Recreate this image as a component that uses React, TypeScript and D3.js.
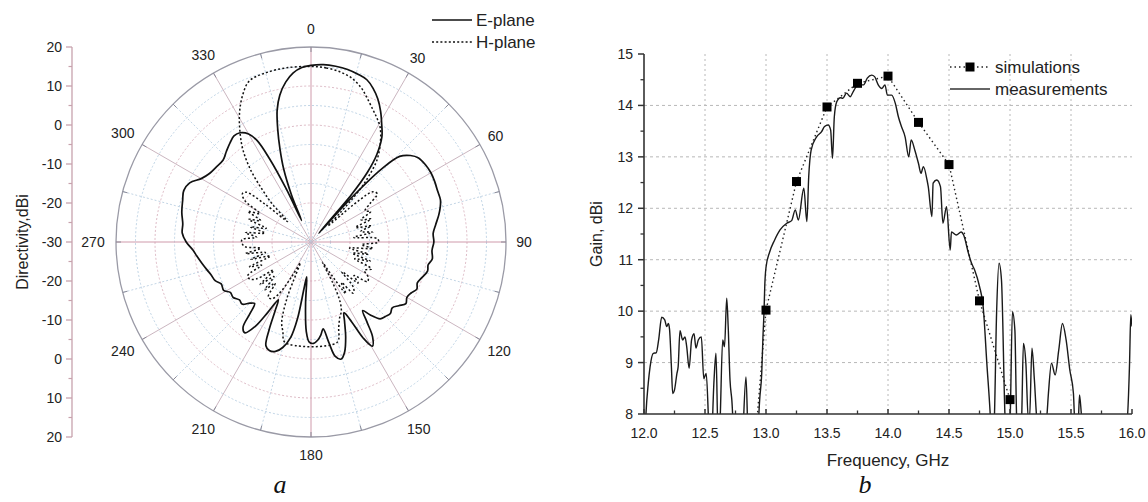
import React from 'react';
import * as d3 from 'd3';

// (a) radiation pattern, angle in degrees, directivity in dBi
const eAngles = [0, 4, 8, 12, 16, 19, 22, 25, 28, 31, 34, 37, 39, 40.5, 41.5, 42.5, 44, 46, 49, 52, 56, 60, 64, 68, 72, 75, 78, 82, 86, 90, 94, 98, 101, 104, 108, 111, 114, 117, 120, 123, 126, 129, 132, 135, 138, 141, 143, 145, 147, 149.5, 151.5, 153, 155, 157, 160, 163, 165.5, 168, 170, 172, 174, 176, 178.5, 181, 183, 185, 187, 188.5, 190, 192, 195, 198, 201, 203.5, 205.5, 207.5, 209.5, 211.5, 213.5, 216, 218.5, 220.5, 222.5, 225, 228, 231, 234.5, 238, 241, 245, 248, 252, 255, 259, 263, 266, 270, 274, 278, 283, 288, 292, 296, 300, 304, 308, 313, 317, 321, 324, 327, 330, 332, 333.5, 335, 336.3, 337.5, 339.5, 341.5, 343.5, 345.6, 348, 351, 354, 357];
const eDirectivity = [15.3, 15.6, 15.5, 15.2, 14.6, 14.0, 12.5, 10.5, 8.0, 5.2, 2.5, -2, -7, -14, -27, -14, -4, 1.6, 3.8, 5.0, 5.4, 5.5, 5.3, 5.0, 4.9, 4.3, 3.5, 2.3, 1.4, 1.5, 1.1, 1.4, 0.6, 0.8, -0.2, -0.8, -0.3, -1.2, -1.6, -1.0, -2.2, -3.2, -2.6, -3.0, -3.5, -6, -8, -5, -1, 1.0, -2, -7, -10, -8, -4, -0.5, 1.0, 0, -4, -7.5, -6, -4.8, -4.0, -4.3, -7, -14, -21, -18, -10, -5, -2, -0.5, -0.2, -1, -5, -10, -13, -9, -4, -1.2, -2, -6, -8.6, -7.8, -6.2, -6.4, -5.5, -5.6, -4.4, -4.6, -3.5, -3.0, -2.4, -1.5, -0.5, 0.3, 2.0, 3.1, 3.2, 4.0, 4.6, 5.2, 4.6, 2.5, 1.4, 1.0, 0.8, 1.8, 2.9, 3.6, 3.4, 2.0, -0.5, -6, -15, -24, -17, -10, -5, 0, 4.9, 8.5, 11.5, 13.6, 14.8];

const hAngles = [0, 5, 10, 14, 18, 21, 25, 28, 31, 35, 38.8, 41, 43, 45, 46.5, 49, 51, 54, 57, 60, 63, 66, 69, 72, 75, 78, 81, 84, 87, 90, 93, 96, 99, 102, 105, 108, 111, 114, 118, 121.5, 125, 128, 131, 134, 137, 140.5, 143, 146, 148.5, 150.5, 152, 154, 156.5, 159, 162, 165.5, 194.5, 197.5, 200, 203, 205, 207, 209, 212, 215, 218, 221, 224, 227, 230, 233, 236, 239, 242, 245, 248, 251, 254, 257, 260, 263, 266, 269, 272, 275, 278, 281, 284, 287, 290, 293, 296, 299, 302, 305, 307.5, 309.5, 311, 312.5, 314.5, 317, 320, 323.5, 327, 331, 335, 339, 345, 352];
const hDirectivity = [15.0, 14.8, 14.2, 13.3, 11.6, 9.8, 7.5, 6.0, 4.4, 1.0, -3, -7, -11.7, -19.5, -24, -14, -9.5, -9, -12, -14, -12.8, -16, -13.5, -18, -14, -17, -14, -19, -13, -12.7, -17, -14, -20, -15, -19, -14, -18, -13, -14.5, -12.8, -12.3, -16, -14, -19, -14, -13, -17, -14, -21, -24, -18, -13, -10.5, -9.4, -7, -3.4, -3.4, -6, -8, -14, -21, -24, -20, -14, -12.2, -12.2, -16, -13, -17, -13, -18, -13, -11.6, -11.6, -16, -13, -19, -14, -18, -13, -17, -13, -12.3, -12.3, -16, -13, -18, -14, -18, -13, -16, -12, -15, -10, -8.5, -9, -15, -22, -21, -16, -11.8, -6, -0.7, 3.4, 7.8, 11.5, 14.2, 14.9, 15.1];

const angleTicks = d3.range(0, 360, 30);
const radialTicks = [20, 10, 0, -10, -20, -30];

// (b) gain versus frequency
const simFreq = [12.75, 13.0, 13.25, 13.5, 13.75, 14.0, 14.25, 14.5, 14.75, 15.0];
const simGain = [2.8, 10.02, 12.52, 13.97, 14.43, 14.57, 13.67, 12.85, 10.2, 8.28];

const measFreq = [12.0, 12.016, 12.035, 12.05, 12.076, 12.1, 12.12, 12.145, 12.17, 12.186, 12.2, 12.21, 12.225, 12.235, 12.25, 12.27, 12.28, 12.295, 12.317, 12.336, 12.35, 12.37, 12.39, 12.41, 12.426, 12.445, 12.47, 12.49, 12.51, 12.535, 12.55, 12.574, 12.59, 12.607, 12.62, 12.645, 12.66, 12.678, 12.69, 12.705, 12.72, 12.74, 12.8, 12.836, 12.855, 12.92, 12.95, 12.965, 12.975, 12.984, 12.99, 13.0, 13.03, 13.07, 13.115, 13.17, 13.21, 13.24, 13.265, 13.31, 13.335, 13.35, 13.37, 13.415, 13.456, 13.48, 13.51, 13.53, 13.545, 13.56, 13.58, 13.61, 13.63, 13.66, 13.69, 13.715, 13.756, 13.8, 13.83, 13.866, 13.89, 13.92, 13.95, 13.975, 13.995, 14.03, 14.06, 14.085, 14.11, 14.14, 14.17, 14.19, 14.22, 14.25, 14.27, 14.29, 14.32, 14.33, 14.36, 14.37, 14.4, 14.43, 14.45, 14.48, 14.51, 14.52, 14.56, 14.6, 14.62, 14.66, 14.685, 14.71, 14.75, 14.78, 14.81, 14.84, 14.85, 14.87, 14.89, 14.91, 14.93, 14.96, 14.98, 15.0, 15.02, 15.04, 15.055, 15.075, 15.095, 15.11, 15.13, 15.15, 15.16, 15.18, 15.2, 15.22, 15.26, 15.3, 15.315, 15.34, 15.37, 15.4, 15.43, 15.46, 15.49, 15.52, 15.53, 15.545, 15.56, 15.57, 15.59, 15.75, 15.96, 15.98, 15.99, 16.0];
const measGain = [7.0, 8.0, 8.6, 8.92, 9.18, 9.19, 9.44, 9.88, 9.83, 9.7, 9.76, 9.63, 8.9, 8.4, 8.47, 8.79, 8.92, 9.62, 9.44, 9.5, 9.31, 8.89, 9.44, 9.56, 9.28, 9.44, 9.5, 8.69, 8.79, 7.6, 7.4, 8.66, 9.18, 7.6, 7.7, 9.44, 9.31, 10.25, 9.7, 8.66, 8.27, 7.5, 7.3, 8.72, 7.5, 7.3, 8.34, 8.79, 9.5, 10.0, 10.5, 10.85, 11.15, 11.38, 11.58, 11.71, 11.76, 11.97, 11.77, 12.39, 11.74, 12.61, 13.13, 13.39, 13.49, 13.59, 13.62, 13.52, 12.97, 13.78, 14.07, 14.15, 14.14, 14.24, 14.17, 14.27, 14.4, 14.4, 14.53, 14.59, 14.56, 14.4, 14.33, 14.4, 14.2, 14.2, 14.04, 13.78, 13.59, 13.39, 13.0, 13.33, 13.13, 12.87, 12.68, 12.81, 12.55, 12.42, 11.84, 12.49, 12.55, 12.42, 11.71, 12.03, 11.19, 11.54, 11.48, 11.54, 11.48, 11.12, 10.93, 10.8, 10.48, 10.09, 8.99, 7.9, 7.4, 7.8, 9.96, 10.93, 10.61, 7.9, 7.4, 7.8, 9.99, 9.63, 7.9, 7.5, 7.9, 9.37, 8.99, 7.9, 7.9, 9.28, 8.66, 7.9, 7.5, 7.9, 8.4, 8.99, 8.76, 9.25, 9.76, 9.44, 8.86, 8.4, 7.9, 7.8, 7.9, 8.37, 7.9, 7.3, 7.9, 8.99, 9.93, 9.7];

const freqTicks = [12.0, 12.5, 13.0, 13.5, 14.0, 14.5, 15.0, 15.5, 16.0];
const gainTicks = [8, 9, 10, 11, 12, 13, 14, 15];

const SANS = 'Arial, "Liberation Sans", sans-serif';
const SERIF = '"Times New Roman", "Liberation Serif", serif';

function PolarChart() {
  const cx = 311;
  const cy = 242;
  const R = 195;
  const r = d3.scaleLinear().domain([-30, 20]).range([0, R]).clamp(true);
  const yTop = d3.scaleLinear().domain([-30, 20]).range([cy, cy - R]);
  const yBot = d3.scaleLinear().domain([-30, 20]).range([cy, cy + R]);
  const axisX = 72;

  const line = d3
    .lineRadial<[number, number]>()
    .angle(d => (d[0] * Math.PI) / 180)
    .radius(d => r(d[1]))
    .curve(d3.curveCatmullRomClosed);

  const ePts = eAngles.map((a, i) => [a, eDirectivity[i]] as [number, number]);
  const hPts = hAngles.map((a, i) => [a, hDirectivity[i]] as [number, number]);

  const pos = (deg: number, rad: number) => {
    const t = (deg * Math.PI) / 180;
    return [cx + rad * Math.sin(t), cy - rad * Math.cos(t)];
  };

  const rings = d3.range(-25, 20, 5);
  const spokes = d3.range(0, 360, 15);
  const minorRadial = d3.range(-25, 20, 10);

  return (
    <g>
      {/* grid */}
      {rings.map(v => (
        <circle
          key={'ring' + v}
          cx={cx}
          cy={cy}
          r={r(v)}
          fill="none"
          stroke={v % 10 === 0 ? '#d9b3c0' : '#b9cfe2'}
          strokeWidth={0.9}
          strokeDasharray="2,2"
        />
      ))}
      {spokes.map(a => {
        const [x2, y2] = pos(a, R);
        const major = a % 30 === 0;
        const axial = a % 90 === 0;
        return (
          <line
            key={'sp' + a}
            x1={cx}
            y1={cy}
            x2={x2}
            y2={y2}
            stroke={axial ? '#cf9aab' : major ? '#cbb6c0' : '#bcd0e2'}
            strokeWidth={major ? 1 : 0.9}
            strokeDasharray={major ? undefined : '2,2'}
          />
        );
      })}
      <circle cx={cx} cy={cy} r={R} fill="none" stroke="#9a9aa6" strokeWidth={1.3} />
      {spokes.map(a => {
        const [x1, y1] = pos(a, R);
        const [x2, y2] = pos(a, R - 5);
        return <line key={'tk' + a} x1={x1} y1={y1} x2={x2} y2={y2} stroke="#8a8a98" strokeWidth={1} />;
      })}

      {/* curves */}
      <path
        d={line(hPts) || ''}
        transform={`translate(${cx},${cy})`}
        fill="none"
        stroke="#111"
        strokeWidth={1.5}
        strokeDasharray="2,2.2"
      />
      <path
        d={line(ePts) || ''}
        transform={`translate(${cx},${cy})`}
        fill="none"
        stroke="#111"
        strokeWidth={1.7}
      />

      {/* angle labels */}
      {angleTicks.map(a => {
        const label = String(a);
        const t = (a * Math.PI) / 180;
        const rr = 213 + (label.length === 3 ? 5 * Math.abs(Math.sin(t)) : 0);
        const [x, y] = pos(a, rr);
        return (
          <text
            key={'al' + a}
            x={x}
            y={y}
            textAnchor="middle"
            dominantBaseline="central"
            fontSize={14}
            fontFamily={SANS}
            fill="#222"
          >
            {label}
          </text>
        );
      })}

      {/* radial axis on the left */}
      <line x1={axisX} y1={cy - R} x2={axisX} y2={cy + R} stroke="#c7a2ad" strokeWidth={1.3} />
      {radialTicks.map(v => (
        <g key={'rt' + v}>
          <line x1={axisX - 6} y1={yTop(v)} x2={axisX} y2={yTop(v)} stroke="#c7a2ad" strokeWidth={1.3} />
          <text x={axisX - 10} y={yTop(v)} textAnchor="end" dominantBaseline="central" fontSize={14} fontFamily={SANS} fill="#222">
            {v}
          </text>
          {v !== -30 && (
            <g>
              <line x1={axisX - 6} y1={yBot(v)} x2={axisX} y2={yBot(v)} stroke="#c7a2ad" strokeWidth={1.3} />
              <text x={axisX - 10} y={yBot(v)} textAnchor="end" dominantBaseline="central" fontSize={14} fontFamily={SANS} fill="#222">
                {v}
              </text>
            </g>
          )}
        </g>
      ))}
      {minorRadial.map(v => (
        <g key={'mr' + v}>
          <line x1={axisX - 3.5} y1={yTop(v)} x2={axisX} y2={yTop(v)} stroke="#c7a2ad" strokeWidth={1.2} />
          <line x1={axisX - 3.5} y1={yBot(v)} x2={axisX} y2={yBot(v)} stroke="#c7a2ad" strokeWidth={1.2} />
        </g>
      ))}
      <text
        transform={`translate(22,${cy}) rotate(-90)`}
        textAnchor="middle"
        dominantBaseline="central"
        fontSize={16}
        fontFamily={SANS}
        fill="#222"
      >
        Directivity,dBi
      </text>

      {/* legend */}
      <line x1={432} y1={20} x2={472} y2={20} stroke="#111" strokeWidth={1.7} />
      <text x={476} y={20} dominantBaseline="central" fontSize={17} fontFamily={SANS} fill="#222">
        E-plane
      </text>
      <line x1={432} y1={42} x2={472} y2={42} stroke="#111" strokeWidth={1.5} strokeDasharray="2,2.2" />
      <text x={476} y={42} dominantBaseline="central" fontSize={17} fontFamily={SANS} fill="#222">
        H-plane
      </text>

      <text x={280} y={493} textAnchor="middle" fontSize={26} fontStyle="italic" fontFamily={SERIF} fill="#111">
        a
      </text>
    </g>
  );
}

function GainChart() {
  const x = d3.scaleLinear().domain([12, 16]).range([644, 1132]);
  const y = d3.scaleLinear().domain([8, 15]).range([414, 54]);
  const [x0, x1] = x.range();
  const [yb, yt] = y.range();

  const measLine = d3
    .line<number>()
    .x((_, i) => x(measFreq[i]))
    .y(d => y(d))
    .curve(d3.curveMonotoneX);
  const simLine = d3
    .line<number>()
    .x((_, i) => x(simFreq[i]))
    .y(d => y(d));

  const minorX = d3.range(12.25, 16, 0.5);
  const minorY = d3.range(8.5, 15, 1);

  return (
    <g>
      <defs>
        <clipPath id="plotClip">
          <rect x={x0} y={yt} width={x1 - x0} height={yb - yt} />
        </clipPath>
      </defs>

      {/* grid */}
      {freqTicks.slice(1, -1).map(f => (
        <line key={'gx' + f} x1={x(f)} x2={x(f)} y1={yt} y2={yb} stroke="#b8b8b8" strokeWidth={1} strokeDasharray="2,3" />
      ))}
      {gainTicks.slice(1, -1).map(g => (
        <line key={'gy' + g} x1={x0} x2={x1} y1={y(g)} y2={y(g)} stroke="#b8b8b8" strokeWidth={1} strokeDasharray="3,3" />
      ))}

      {/* curves */}
      <g clipPath="url(#plotClip)">
        <path d={simLine(simGain) || ''} fill="none" stroke="#222" strokeWidth={1.4} strokeDasharray="1.5,3" />
        <path d={measLine(measGain) || ''} fill="none" stroke="#1a1a1a" strokeWidth={1.4} />
        {simGain.map((g, i) => (
          <rect key={'sq' + i} x={x(simFreq[i]) - 4.5} y={y(g) - 4.5} width={9} height={9} fill="#000" />
        ))}
      </g>

      {/* axes */}
      <line x1={x0} y1={yt} x2={x0} y2={yb} stroke="#333" strokeWidth={1.6} />
      <line x1={x0} y1={yb} x2={x1} y2={yb} stroke="#333" strokeWidth={1.6} />
      {gainTicks.map(g => (
        <g key={'yt' + g}>
          <line x1={x0 - 6} x2={x0} y1={y(g)} y2={y(g)} stroke="#333" strokeWidth={1.5} />
          <text x={x0 - 11} y={y(g)} textAnchor="end" dominantBaseline="central" fontSize={14} fontFamily={SANS} fill="#222">
            {g}
          </text>
        </g>
      ))}
      {minorY.map(g => (
        <line key={'ym' + g} x1={x0 - 3.5} x2={x0} y1={y(g)} y2={y(g)} stroke="#333" strokeWidth={1.3} />
      ))}
      {freqTicks.map(f => (
        <g key={'xt' + f}>
          <line x1={x(f)} x2={x(f)} y1={yb} y2={yb - 5} stroke="#333" strokeWidth={1.5} />
          <text x={x(f)} y={yb + 19} textAnchor="middle" dominantBaseline="central" fontSize={14} fontFamily={SANS} fill="#222">
            {f.toFixed(1)}
          </text>
        </g>
      ))}
      {minorX.map(f => (
        <line key={'xm' + f} x1={x(f)} x2={x(f)} y1={yb} y2={yb - 3.5} stroke="#333" strokeWidth={1.3} />
      ))}

      <text
        transform={`translate(596,${(yt + yb) / 2}) rotate(-90)`}
        textAnchor="middle"
        dominantBaseline="central"
        fontSize={16}
        fontFamily={SANS}
        fill="#222"
      >
        Gain, dBi
      </text>
      <text x={888} y={460} textAnchor="middle" dominantBaseline="central" fontSize={17} fontFamily={SANS} fill="#222">
        Frequency, GHz
      </text>

      {/* legend */}
      <line x1={950} y1={67} x2={990} y2={67} stroke="#222" strokeWidth={1.4} strokeDasharray="1.5,3" />
      <rect x={965.5} y={62.5} width={9} height={9} fill="#000" />
      <text x={995} y={67} dominantBaseline="central" fontSize={17} fontFamily={SANS} fill="#222">
        simulations
      </text>
      <line x1={950} y1={89} x2={990} y2={89} stroke="#666" strokeWidth={2.2} />
      <text x={995} y={89} dominantBaseline="central" fontSize={17} fontFamily={SANS} fill="#222">
        measurements
      </text>

      <text x={865} y={493} textAnchor="middle" fontSize={26} fontStyle="italic" fontFamily={SERIF} fill="#111">
        b
      </text>
    </g>
  );
}

export default function App() {
  return (
    <svg
      width={1148}
      height={502}
      viewBox="0 0 1148 502"
      style={{ position: 'absolute', left: 0, top: 0, background: '#fff', display: 'block' }}
    >
      <rect width={1148} height={502} fill="#fff" />
      <PolarChart />
      <GainChart />
    </svg>
  );
}
